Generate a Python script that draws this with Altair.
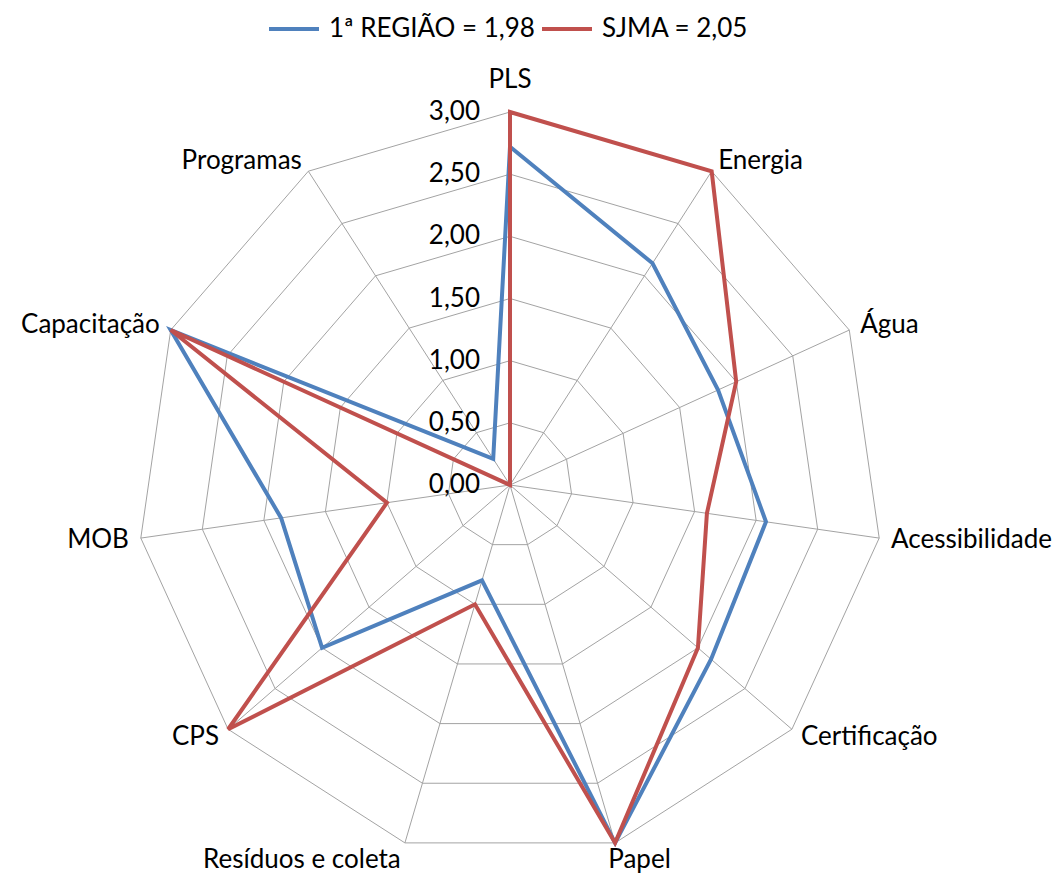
import math
import altair as alt
import pandas as pd

categories = ["PLS", "Energia", "Água", "Acessibilidade", "Certificação", "Papel",
              "Resíduos e coleta", "CPS", "MOB", "Capacitação", "Programas"]
regiao_values = [2.72, 2.12, 1.84, 2.08, 2.14, 3.00, 0.80, 2.00, 1.86, 3.00, 0.25]
sjma_values = [3.00, 3.00, 2.00, 1.60, 2.00, 3.00, 1.00, 3.00, 1.00, 3.00, 0.00]
series_names = ["1ª REGIÃO = 1,98", "SJMA = 2,05"]
series_colors = ["#4F81BD", "#C0504D"]
grid_levels = [0.5, 1.0, 1.5, 2.0, 2.5, 3.0]
tick_levels = [0.0, 0.5, 1.0, 1.5, 2.0, 2.5, 3.0]
tick_labels = ["0,00", "0,50", "1,00", "1,50", "2,00", "2,50", "3,00"]

N = len(categories)
RMAX = 3.0
FONT = "Lato"
FS = 26

# layout (pixels)
W, H = 1048, 870
CX, CY = 502, 477
PX = 373 / RMAX
xs = alt.Scale(domain=[-CX / PX, (W - CX) / PX], nice=False, zero=False)
ys = alt.Scale(domain=[-(H - CY) / PX, CY / PX], nice=False, zero=False)

ANG = f"datum.idx * 2 * PI / {N}"

rows = []
for name, vals in zip(series_names, [regiao_values, sjma_values]):
    for i, (c, v) in enumerate(zip(categories, vals)):
        rows.append({"serie": name, "idx": i, "cat": c, "value": v})
series_df = pd.DataFrame(rows)

grid_df = pd.DataFrame([{"level": l, "idx": i} for l in grid_levels for i in range(N)])
spoke_df = pd.DataFrame({"idx": list(range(N))})
tick_df = pd.DataFrame({"level": tick_levels, "label": tick_labels})
label_df = pd.DataFrame({"idx": list(range(N)), "cat": categories})

X = lambda f: alt.X(f, scale=xs, axis=None)
Y = lambda f: alt.Y(f, scale=ys, axis=None)

rings = alt.Chart(grid_df).transform_calculate(
    a=ANG
).transform_calculate(
    x="datum.level * sin(datum.a)", y="datum.level * cos(datum.a)"
).mark_line(interpolate="linear-closed", color="#A3A3A3", strokeWidth=1).encode(
    x=X("x:Q"), y=Y("y:Q"), detail="level:N", order="idx:Q"
)

spokes = alt.Chart(spoke_df).transform_calculate(
    a=ANG
).transform_calculate(
    x0="0", y0="0", x=f"{RMAX} * sin(datum.a)", y=f"{RMAX} * cos(datum.a)"
).mark_rule(color="#A3A3A3", strokeWidth=1).encode(
    x=X("x0:Q"), y=Y("y0:Q"), x2="x:Q", y2="y:Q"
)

lines = alt.Chart(series_df).transform_calculate(
    a=ANG
).transform_calculate(
    x="datum.value * sin(datum.a)", y="datum.value * cos(datum.a)"
).mark_line(interpolate="linear-closed", strokeWidth=4, strokeJoin="miter").encode(
    x=X("x:Q"), y=Y("y:Q"), order="idx:Q",
    color=alt.Color("serie:N",
                    scale=alt.Scale(domain=series_names, range=series_colors),
                    legend=alt.Legend(orient="none", legendX=259, legendY=-6,
                                      direction="horizontal", title=None,
                                      symbolType="stroke", symbolStrokeWidth=4,
                                      symbolSize=2500, labelFontSize=FS, labelFont=FONT,
                                      labelColor="#000000", labelOffset=8,
                                      labelLimit=500, columnPadding=-1, padding=0))
)

ticks = alt.Chart(tick_df).transform_calculate(
    x="0"
).mark_text(align="right", baseline="middle", dx=-30, fontSize=FS, font=FONT,
            color="#000000").encode(
    x=X("x:Q"), y=Y("level:Q"), text="label:N"
)

label_base = alt.Chart(label_df).transform_calculate(
    a=ANG
).transform_calculate(
    s="sin(datum.a)", c="cos(datum.a)"
).transform_calculate(
    r=f"{RMAX} + (datum.c > 0.9 ? 19.5 : (datum.c < -0.9 ? 4 : 12)) / {PX}",
    al="datum.s > 0.05 ? 'left' : (datum.s < -0.05 ? 'right' : 'center')",
    bl="datum.c > 0.9 ? 'bottom' : (datum.c < -0.9 ? 'top' : 'middle')"
).transform_calculate(
    x="datum.r * datum.s", y="datum.r * datum.c"
)

label_dx = {("left", "top"): -8, ("right", "top"): -3}
label_layers = []
for al in ["left", "right", "center"]:
    for bl in ["bottom", "middle", "top"]:
        label_layers.append(
            label_base.transform_filter(
                f"datum.al == '{al}' && datum.bl == '{bl}'"
            ).mark_text(fontSize=FS, font=FONT, color="#000000", align=al, baseline=bl,
                        dx=label_dx.get((al, bl), 0)).encode(
                x=X("x:Q"), y=Y("y:Q"), text="cat:N"
            )
        )

chart = alt.layer(rings, spokes, lines, ticks, *label_layers).properties(
    width=W, height=H, autosize=alt.AutoSizeParams(type="none"), padding=0
).configure_view(stroke=None)

chart.save("out.html", embed_options={"renderer": "svg", "actions": False})
